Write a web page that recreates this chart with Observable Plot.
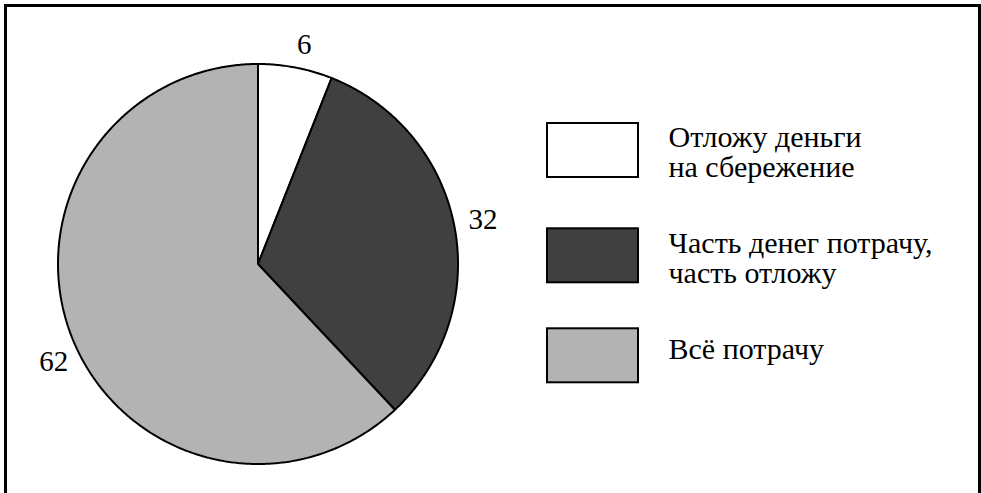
<!DOCTYPE html>
<html><head><meta charset="utf-8">
<script src="https://cdn.jsdelivr.net/npm/d3@7"></script>
<script src="https://cdn.jsdelivr.net/npm/@observablehq/plot@0.6"></script>
<style>
body{margin:0;background:#fff}
#wrap{position:relative;width:981px;height:493px;overflow:hidden}
#frame{position:absolute;left:4px;top:4px;width:971px;height:500px;border:3px solid #000;border-bottom:none;pointer-events:none}
</style>
</head><body><div id="wrap"><div id="chart"></div><div id="frame"></div></div>
<script>
// Data
const categories = ["Отложу деньги\nна сбережение", "Часть денег потрачу,\nчасть отложу", "Всё потрачу"];
const values = [6, 32, 62];
const colors = ["#ffffff", "#404040", "#b3b3b3"];

// Layout
const W = 981, H = 493;
const cx = 257.5, cy = 263.5, R = 200;
const labelR = 226;
const labelNudge = [[4, 3], [3, -2], [6, 15]];
const legend = {x1: 547, x2: 638, tops: [123, 228.3, 328.3], h: 54, textX: 668};
const textNudge = [1.4, 2.1, -6.9];

const arcs = d3.pie().sort(null)(values);
const slicePts = [];
arcs.forEach((a, i) => {
  slicePts.push({i, px: cx, py: cy});
  const n = Math.max(2, Math.ceil((a.endAngle - a.startAngle) / (Math.PI / 360)));
  for (let k = 0; k <= n; k++) {
    const t = a.startAngle + (a.endAngle - a.startAngle) * k / n;
    slicePts.push({i, px: cx + R * Math.sin(t), py: cy - R * Math.cos(t)});
  }
  slicePts.push({i, px: cx, py: cy});
});
const labels = arcs.map((a, i) => {
  const m = (a.startAngle + a.endAngle) / 2;
  return {v: values[i], px: cx + labelR * Math.sin(m) + labelNudge[i][0], py: cy - labelR * Math.cos(m) + labelNudge[i][1]};
});
const leg = categories.map((c, i) => ({c, i, top: legend.tops[i]}));

const font = "Liberation Serif";
const chart = Plot.plot({
  width: W, height: H,
  margin: 0,
  x: {domain: [0, W], range: [0, W], axis: null},
  y: {domain: [0, H], range: [0, H], axis: null},
  color: {type: "identity"},
  style: {background: "#fff"},
  marks: [
    Plot.line(slicePts, {x: "px", y: "py", z: "i", fill: d => colors[d.i], stroke: "#000", strokeWidth: 2, strokeLinejoin: "miter", curve: "linear"}),
    Plot.text(labels, {x: "px", y: "py", text: d => String(d.v), fontSize: 29, fontFamily: font, fill: "#000", textAnchor: "middle", lineAnchor: "middle"}),
    Plot.rect(leg, {x1: () => legend.x1, x2: () => legend.x2, y1: d => d.top, y2: d => d.top + legend.h, fill: d => colors[d.i], stroke: "#000", strokeWidth: 2}),
    Plot.text(leg, {x: () => legend.textX, y: d => d.top + legend.h / 2 + textNudge[d.i], text: "c", fontSize: 30, fontFamily: font, fill: "#000", textAnchor: "start", lineAnchor: "middle", lineHeight: 1.0})
  ]
});
document.getElementById("chart").appendChild(chart);
</script>
</body></html>
